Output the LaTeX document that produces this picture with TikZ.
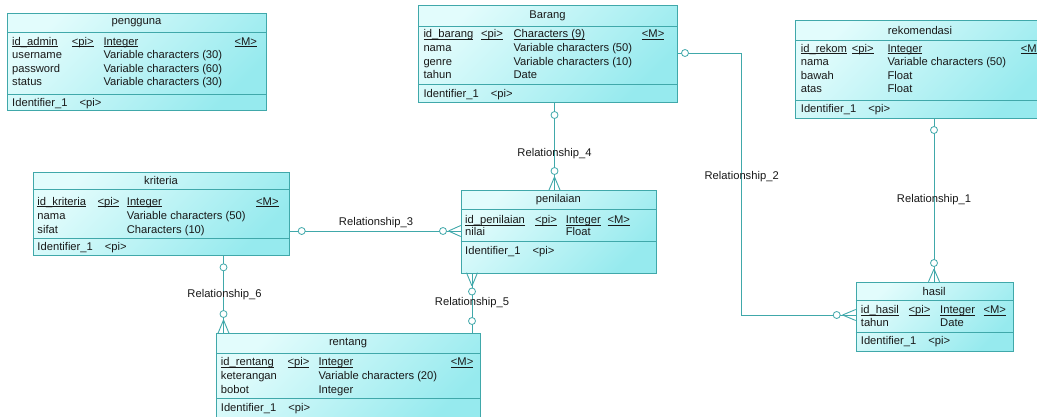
\documentclass[tikz,border=0pt]{standalone}
\usepackage{fontspec}
\setmainfont{Liberation Sans}
\definecolor{edge}{RGB}{64,168,170}
\definecolor{fillA}{RGB}{226,252,252}
\definecolor{fillB}{RGB}{150,234,238}
\definecolor{ink}{RGB}{25,25,25}
\newcommand\erfont{\fontsize{11.2}{13}\selectfont}
\newcommand\ul[1]{\underline{\smash{#1}}}
\newcount\cellno
\newcommand\cell[3]{\global\advance\cellno by 1
  \node[txt] (c\the\cellno) at (#1,#2+4) {#3};}
% name, x1, y1, x2, y2, header line, separator, title
\newcommand\entity[8]{%
  \node[entbox, minimum width={#4-#2}, minimum height={#5-#3}] (#1) at (#2,#3) {};
  \draw[sepline] (#2,#6) -- (#4,#6);
  \draw[sepline] (#2,#7) -- (#4,#7);
  \node[ttl] (#1-title) at ({(#2+#4)/2},{(#3+#6)/2}) {#8};}
\tikzset{
  entbox/.style={draw=edge, line width=0.9pt, top color=fillA, bottom color=fillB,
    shading angle=45, inner sep=0pt, anchor=north west},
  sepline/.style={draw=edge, line width=0.9pt},
  txt/.style={inner sep=0pt, anchor=base west, text=ink, font=\erfont},
  ttl/.style={inner sep=0pt, text=ink, font=\erfont},
  conn/.style={draw=edge, line width=0.9pt},
  opt/.style={circle, draw=edge, fill=white, line width=0.8pt, minimum size=7pt, inner sep=0pt},
  rlabel/.style={inner sep=1pt, text=ink, font=\erfont},
}
\begin{document}
\begin{tikzpicture}[x=1pt,y=-1pt]
\useasboundingbox (0,0) rectangle (1037,416);
\fill[white] (0,0) rectangle (1037,416);

% ---------- helper coordinates for connectors ----------
\coordinate (x4) at (554.5,0);
\coordinate (y3) at (0,231);
\coordinate (x5) at (472,0);
\coordinate (x6) at (223.5,0);
\coordinate (x1) at (934,0);
\coordinate (y2a) at (0,53);
\coordinate (y2b) at (0,315);
\coordinate (x2) at (741.7,0);

% ---------- entities ----------
\entity{pengguna}{7}{13}{266}{110}{32}{94}{pengguna}
\cell{12}{41}{\ul{id\_admin}}
\cell{71.7}{41}{\ul{<pi>}}
\cell{103.3}{41}{\ul{Integer}}
\cell{234.3}{41}{\ul{<M>}}
\cell{12}{54.5}{username}
\cell{103.3}{54.5}{Variable characters (30)}
\cell{12}{68}{password}
\cell{103.3}{68}{Variable characters (60)}
\cell{12}{81.5}{status}
\cell{103.3}{81.5}{Variable characters (30)}
\cell{12}{102}{Identifier\_1\hspace{12pt}<pi>}

\entity{barang}{418.3}{5}{676.7}{101.7}{26}{84.3}{Barang}
\cell{423.3}{33.5}{\ul{id\_barang}}
\cell{481}{33.5}{\ul{<pi>}}
\cell{513.3}{33.5}{\ul{Characters (9)}}
\cell{641.7}{33.5}{\ul{<M>}}
\cell{423.3}{47}{nama}
\cell{513.3}{47}{Variable characters (50)}
\cell{423.3}{61}{genre}
\cell{513.3}{61}{Variable characters (10)}
\cell{423.3}{74.5}{tahun}
\cell{513.3}{74.5}{Date}
\cell{423.3}{93}{Identifier\_1\hspace{12pt}<pi>}

\entity{rekomendasi}{795}{20}{1045}{118}{40}{100}{rekomendasi}
\cell{800.7}{48}{\ul{id\_rekom}}
\cell{851.7}{48}{\ul{<pi>}}
\cell{887.3}{48}{\ul{Integer}}
\cell{1020.7}{48}{\ul{<M>}}
\cell{800.7}{61.5}{nama}
\cell{887.3}{61.5}{Variable characters (50)}
\cell{800.7}{75}{bawah}
\cell{887.3}{75}{Float}
\cell{800.7}{88.5}{atas}
\cell{887.3}{88.5}{Float}
\cell{800.7}{108.5}{Identifier\_1\hspace{12pt}<pi>}

\entity{kriteria}{32.7}{172.3}{289.3}{255}{189.3}{238.3}{kriteria}
\cell{37.3}{201}{\ul{id\_kriteria}}
\cell{97.3}{201}{\ul{<pi>}}
\cell{126.7}{201}{\ul{Integer}}
\cell{256}{201}{\ul{<M>}}
\cell{37.3}{215}{nama}
\cell{126.7}{215}{Variable characters (50)}
\cell{37.3}{229}{sifat}
\cell{126.7}{229}{Characters (10)}
\cell{37.3}{246.7}{Identifier\_1\hspace{12pt}<pi>}

\entity{penilaian}{460.7}{190}{656}{272.7}{209.3}{241.7}{penilaian}
\cell{465}{219.3}{\ul{id\_penilaian}}
\cell{535}{219.3}{\ul{<pi>}}
\cell{565.7}{219.3}{\ul{Integer}}
\cell{607.3}{219.3}{\ul{<M>}}
\cell{465}{231.7}{nilai}
\cell{565.7}{231.7}{Float}
\cell{465}{250}{Identifier\_1\hspace{12pt}<pi>}

\entity{hasil}{855.7}{281.7}{1012.7}{351}{300.7}{332.7}{hasil}
\cell{860.7}{309.3}{\ul{id\_hasil}}
\cell{908.3}{309.3}{\ul{<pi>}}
\cell{940}{309.3}{\ul{Integer}}
\cell{983.3}{309.3}{\ul{<M>}}
\cell{860.7}{322.3}{tahun}
\cell{940}{322.3}{Date}
\cell{860.7}{340.7}{Identifier\_1\hspace{12pt}<pi>}

\entity{rentang}{216}{333.3}{480}{425}{353.3}{398.3}{rentang}
\cell{220.7}{361.7}{\ul{id\_rentang}}
\cell{287.3}{361.7}{\ul{<pi>}}
\cell{318.3}{361.7}{\ul{Integer}}
\cell{450.7}{361.7}{\ul{<M>}}
\cell{220.7}{375.3}{keterangan}
\cell{318.3}{375.3}{Variable characters (20)}
\cell{220.7}{389.3}{bobot}
\cell{318.3}{389.3}{Integer}
\cell{220.7}{407.3}{Identifier\_1\hspace{12pt}<pi>}

% ---------- Relationship_4 : barang -- penilaian ----------
\draw[conn] (barang.south -| x4) -- (penilaian.north -| x4);
\draw[conn] (554.5,177) -- (549,190) (554.5,177) -- (560,190);
\node[opt] (o4a) at (554.5,115) {};
\node[opt] (o4b) at (554.5,171) {};
\node[rlabel] (r4) at (554.5,154) {Relationship\_4};

% ---------- Relationship_3 : kriteria -- penilaian ----------
\draw[conn] (kriteria.east |- y3) -- (penilaian.west |- y3);
\draw[conn] (448.5,231) -- (460.7,225.5) (448.5,231) -- (460.7,236.5);
\node[opt] (o3a) at (301.7,231) {};
\node[opt] (o3b) at (443,231) {};
\node[rlabel] (r3) at (376,223) {Relationship\_3};

% ---------- Relationship_5 : penilaian -- rentang ----------
\draw[conn] (penilaian.south -| x5) -- (rentang.north -| x5);
\draw[conn] (472,286) -- (466.5,272.7) (472,286) -- (477.5,272.7);
\node[opt] (o5a) at (472,291.5) {};
\node[opt] (o5b) at (472,321) {};
\node[rlabel] (r5) at (472,303) {Relationship\_5};

% ---------- Relationship_6 : kriteria -- rentang ----------
\draw[conn] (kriteria.south -| x6) -- (rentang.north -| x6);
\draw[conn] (223.5,320) -- (218,333.3) (223.5,320) -- (229,333.3);
\node[opt] (o6a) at (223.5,267.3) {};
\node[opt] (o6b) at (223.5,314) {};
\node[rlabel] (r6) at (224.5,295) {Relationship\_6};

% ---------- Relationship_1 : rekomendasi -- hasil ----------
\draw[conn] (rekomendasi.south -| x1) -- (hasil.north -| x1);
\draw[conn] (934,269) -- (928.5,281.7) (934,269) -- (939.5,281.7);
\node[opt] (o1a) at (934,130) {};
\node[opt] (o1b) at (934,263) {};
\node[rlabel] (r1) at (934,200) {Relationship\_1};

% ---------- Relationship_2 : barang -- hasil ----------
\draw[conn] (barang.east |- y2a) -- (x2 |- y2a) -- (x2 |- y2b) -- (hasil.west |- y2b);
\draw[conn] (842.5,315) -- (855.7,309.5) (842.5,315) -- (855.7,320.5);
\node[opt] (o2a) at (685,53) {};
\node[opt] (o2b) at (836.7,315) {};
\node[rlabel] (r2) at (741.7,177) {Relationship\_2};
\end{tikzpicture}
\end{document}
